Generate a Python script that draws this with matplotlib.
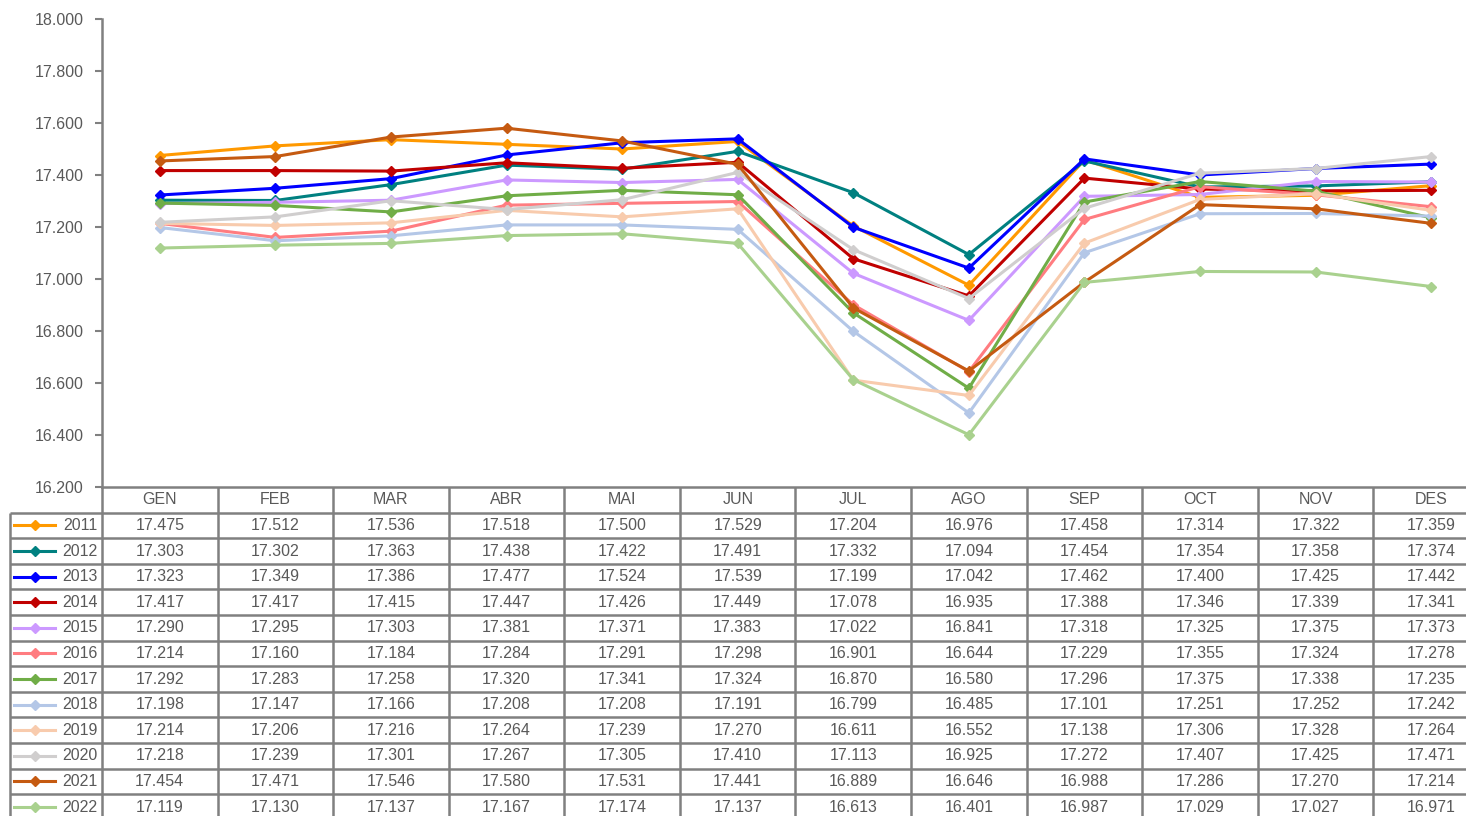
import matplotlib
matplotlib.use("Agg")
import matplotlib.pyplot as plt

plt.rcParams["font.family"] = ["Liberation Sans", "DejaVu Sans"]

# Meses y datos (miles)
months = ["GEN", "FEB", "MAR", "ABR", "MAI", "JUN", "JUL", "AGO", "SEP", "OCT", "NOV", "DES"]
years = ["2011", "2012", "2013", "2014", "2015", "2016",
         "2017", "2018", "2019", "2020", "2021", "2022"]

v2011 = [17475, 17512, 17536, 17518, 17500, 17529, 17204, 16976, 17458, 17314, 17322, 17359]
v2012 = [17303, 17302, 17363, 17438, 17422, 17491, 17332, 17094, 17454, 17354, 17358, 17374]
v2013 = [17323, 17349, 17386, 17477, 17524, 17539, 17199, 17042, 17462, 17400, 17425, 17442]
v2014 = [17417, 17417, 17415, 17447, 17426, 17449, 17078, 16935, 17388, 17346, 17339, 17341]
v2015 = [17290, 17295, 17303, 17381, 17371, 17383, 17022, 16841, 17318, 17325, 17375, 17373]
v2016 = [17214, 17160, 17184, 17284, 17291, 17298, 16901, 16644, 17229, 17355, 17324, 17278]
v2017 = [17292, 17283, 17258, 17320, 17341, 17324, 16870, 16580, 17296, 17375, 17338, 17235]
v2018 = [17198, 17147, 17166, 17208, 17208, 17191, 16799, 16485, 17101, 17251, 17252, 17242]
v2019 = [17214, 17206, 17216, 17264, 17239, 17270, 16611, 16552, 17138, 17306, 17328, 17264]
v2020 = [17218, 17239, 17301, 17267, 17305, 17410, 17113, 16925, 17272, 17407, 17425, 17471]
v2021 = [17454, 17471, 17546, 17580, 17531, 17441, 16889, 16646, 16988, 17286, 17270, 17214]
v2022 = [17119, 17130, 17137, 17167, 17174, 17137, 16613, 16401, 16987, 17029, 17027, 16971]

series = [v2011, v2012, v2013, v2014, v2015, v2016,
          v2017, v2018, v2019, v2020, v2021, v2022]
colors = ["#FF9900", "#008080", "#0000FF", "#C00000", "#CC99FF", "#FF7C80",
          "#70AD47", "#B4C7E7", "#F8CBAD", "#D0CECE", "#C55A11", "#A9D18E"]


def fmt(v):
    return f"{v:,}".replace(",", ".")


W, H = 1466, 816
GRAY = "#808080"
TXT = "#595959"
FS = 11.5

fig = plt.figure(figsize=(W / 100, H / 100), dpi=100)

# grafico principal
ax = fig.add_axes([102 / W, 1 - 487 / H, (1489 - 102) / W, (487 - 19) / H])
x = list(range(len(months)))
for vals, col in zip(series, colors):
    ax.plot(x, vals, color=col, lw=2.2, marker="D", markersize=5, zorder=3)

ax.set_xlim(-0.5, 11.5)
ax.set_ylim(16200, 18000)
yt = list(range(16200, 18001, 200))
ax.set_yticks(yt)
ax.set_yticklabels([fmt(v) for v in yt], fontsize=FS, color=TXT)
ax.set_xticks([])
ax.tick_params(axis="y", length=5, width=1.5, color=GRAY, pad=8)
for s in ["top", "right"]:
    ax.spines[s].set_visible(False)
for s in ["left", "bottom"]:
    ax.spines[s].set_color(GRAY)
    ax.spines[s].set_linewidth(1.8)

# tabla de datos
ncol = len(months)
px_unit = (1489 - 102) / ncol
xl = -0.5 - (102 - 10) / px_unit
nrow = len(years) + 1
row_h = 25.6
tax = fig.add_axes([10 / W, 1 - (487 + nrow * row_h) / H,
                    (1489 - 10) / W, nrow * row_h / H])
tax.set_xlim(xl, ncol - 0.5)
tax.set_ylim(nrow, 0)
tax.axis("off")

lk = dict(color=GRAY, lw=1.8, clip_on=False, solid_capstyle="butt")
for r in range(1, nrow + 1):
    tax.plot([xl, ncol - 0.5], [r, r], **lk)
for c in range(ncol + 1):
    tax.plot([c - 0.5, c - 0.5], [0, nrow], **lk)
tax.plot([xl, xl], [1, nrow], **lk)

for i, m in enumerate(months):
    tax.text(i, 0.5, m, ha="center", va="center", fontsize=FS, color=TXT)

for r, (yr, vals, col) in enumerate(zip(years, series, colors), start=1):
    x0 = -0.5 - (102 - 14) / px_unit
    x1 = -0.5 - (102 - 55) / px_unit
    tax.plot([x0, x1], [r + 0.5, r + 0.5], color=col, lw=2.2, clip_on=False)
    tax.plot([(x0 + x1) / 2], [r + 0.5], color=col, marker="D", markersize=5,
             clip_on=False)
    tax.text(-0.54, r + 0.5, yr, ha="right", va="center", fontsize=FS, color=TXT)
    for i, v in enumerate(vals):
        tax.text(i, r + 0.5, fmt(v), ha="center", va="center", fontsize=FS, color=TXT)

fig.savefig("out.png", dpi=100)
